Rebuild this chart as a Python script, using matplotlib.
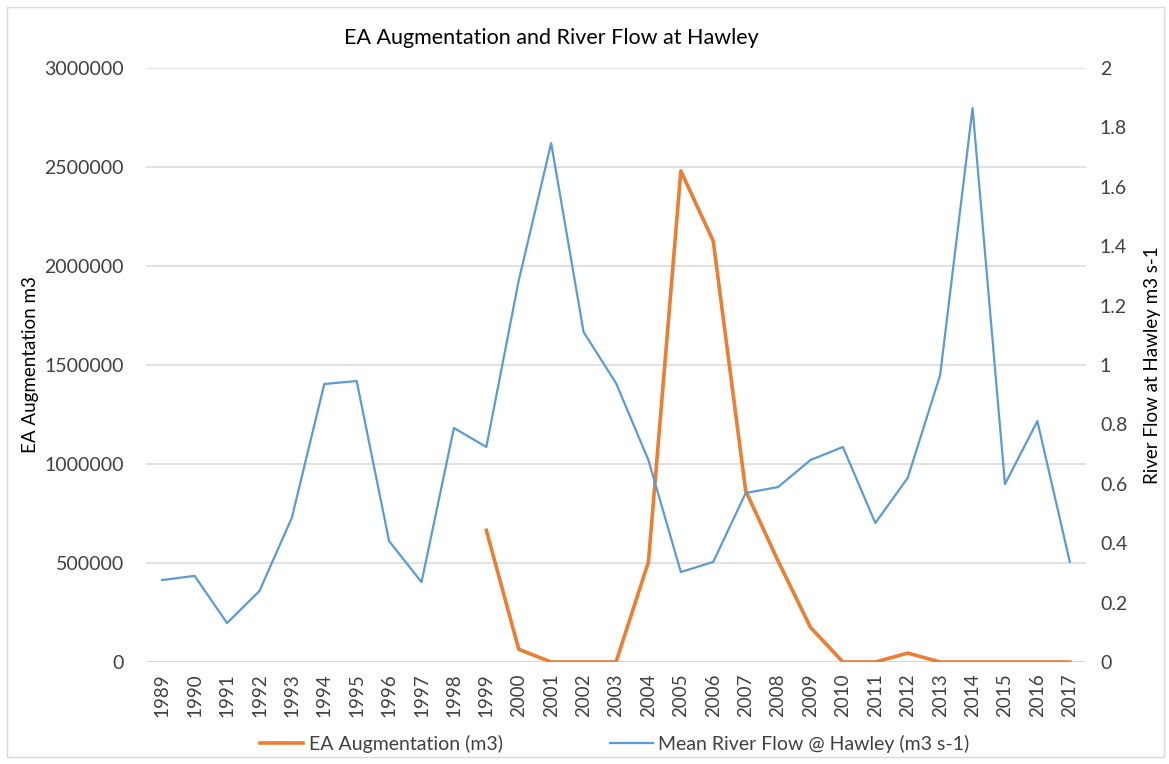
import numpy as np
import matplotlib
matplotlib.use("Agg")
import matplotlib.pyplot as plt
from matplotlib.patches import Rectangle

plt.rcParams['font.family'] = ['Lato', 'DejaVu Sans']

# data
years = [str(y) for y in range(1989, 2018)]
# EA augmentation (m3), no data before 1999
augmentation = [np.nan] * 10 + [665000, 64000, 0, 0, 0, 505000, 2480000, 2126000,
                                 865000, 510000, 175000, 0, 0, 45000, 0, 0, 0, 0, 0]
# mean river flow @ Hawley (m3 s-1)
river_flow = [0.276, 0.290, 0.131, 0.239, 0.486, 0.936, 0.946, 0.407, 0.269, 0.788,
              0.724, 1.285, 1.747, 1.111, 0.939, 0.680, 0.303, 0.337, 0.569, 0.589,
              0.680, 0.724, 0.468, 0.620, 0.966, 1.865, 0.599, 0.811, 0.337]

orange = '#ED7D31'
blue = '#5B9BD5'
grid = '#D9D9D9'
txt = '#404040'

fig = plt.figure(figsize=(11.69, 7.64), dpi=100)
# chart border
fig.patches.append(Rectangle((7 / 1169, 7 / 764), 1 - 12 / 1169, 1 - 14 / 764,
                             transform=fig.transFigure, fill=False,
                             edgecolor='#D9D9D9', linewidth=1))

ax = fig.add_axes([146 / 1169, 1 - 662 / 764, 940 / 1169, 594 / 764])
ax2 = ax.twinx()

x = np.arange(len(years))
ax.plot(x, augmentation, color=orange, linewidth=2.6, zorder=3,
        label='EA Augmentation (m3)')
ax2.plot(x, river_flow, color=blue, linewidth=1.6, zorder=3,
         label='Mean River Flow @ Hawley (m3 s-1)')

ax.set_xlim(-0.5, len(years) - 0.5)
ax.set_ylim(0, 3000000)
ax2.set_ylim(0, 2)
ax.set_yticks(np.arange(0, 3000001, 500000))
ax.set_yticklabels([str(v) for v in range(0, 3000001, 500000)])
ax2.set_yticks(np.arange(0, 2.01, 0.2))
ax2.set_yticklabels(['0', '0.2', '0.4', '0.6', '0.8', '1', '1.2', '1.4', '1.6', '1.8', '2'])
ax.set_xticks(x)
ax.set_xticklabels(years, rotation=90)

ax.grid(axis='y', color=grid, linewidth=1.1, zorder=0)
ax.set_axisbelow(True)
for a in (ax, ax2):
    for s in ['top', 'left', 'right', 'bottom']:
        a.spines[s].set_visible(False)
ax.axhline(0, color=grid, linewidth=1.8, zorder=1)
ax.tick_params(axis='y', length=0, labelsize=14, colors=txt, pad=16)
ax.tick_params(axis='x', length=0, labelsize=13.5, colors=txt, pad=8)
ax2.tick_params(axis='y', length=0, labelsize=14, colors=txt, pad=10)

ax.set_ylabel('EA Augmentation m3', fontsize=13.5, color='#000000', labelpad=4)
ax2.set_ylabel('River Flow at Hawley m3 s-1', fontsize=13.5, color='#000000', labelpad=12)
fig.text(551 / 1169, 1 - 38 / 764, 'EA Augmentation and River Flow at Hawley',
         fontsize=15.5, color='#000000', ha='center', va='center')

h1, l1 = ax.get_legend_handles_labels()
h2, l2 = ax2.get_legend_handles_labels()
fig.legend(h1 + h2, l1 + l2, loc='center', bbox_to_anchor=(615 / 1169, 1 - 744 / 764),
           ncol=2, frameon=False, fontsize=14, handlelength=2.2, handletextpad=0.3,
           columnspacing=5.5, labelcolor=txt)

fig.savefig('out.png', dpi=100)
